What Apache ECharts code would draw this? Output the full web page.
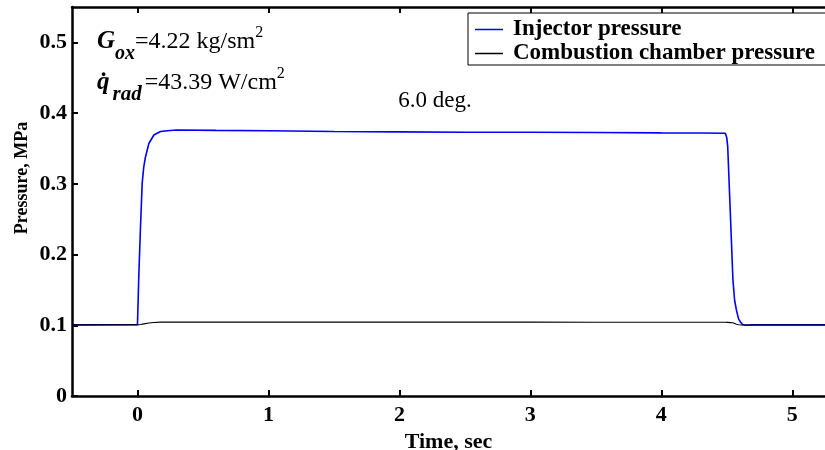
<!DOCTYPE html>
<html>
<head>
<meta charset="utf-8">
<script src="https://cdn.jsdelivr.net/npm/echarts@6/dist/echarts.min.js"></script>
<style>
  html, body { margin: 0; padding: 0; background: #fff; }
  #chart { width: 825px; height: 450px; }
</style>
</head>
<body>
<div id="chart"></div>
<script>
  // sample times, sec
  var time = [-0.5, 0, 0.01, 0.023, 0.036, 0.048, 0.061, 0.087, 0.125, 0.176, 0.227, 0.3, 0.6,
    1, 1.5, 2, 2.5, 3, 3.5, 4, 4.3, 4.489, 4.5, 4.507, 4.527, 4.547, 4.56, 4.573, 4.59, 4.603,
    4.62, 4.641, 4.7, 5, 5.25];
  // injector pressure, MPa
  var injector = [0.1005, 0.101, 0.169, 0.239, 0.301, 0.324, 0.338, 0.357, 0.369, 0.374, 0.375, 0.376, 0.3755,
    0.375, 0.374, 0.3735, 0.373, 0.373, 0.3725, 0.372, 0.3718, 0.3715, 0.365, 0.353, 0.259, 0.164, 0.135, 0.122, 0.109, 0.105,
    0.101, 0.1, 0.1005, 0.1005, 0.1005];
  // combustion chamber pressure, MPa
  var chamber = [0.1005, 0.1005, 0.1008, 0.101, 0.1015, 0.102, 0.1025, 0.1033, 0.104, 0.1045, 0.1045, 0.1045, 0.1045,
    0.1045, 0.1045, 0.1045, 0.1044, 0.1044, 0.1043, 0.1043, 0.1043, 0.1042, 0.1042, 0.1041, 0.1038, 0.1035, 0.1025, 0.1015, 0.1008, 0.1005,
    0.1003, 0.1003, 0.1003, 0.1003, 0.1003];
  var xTicks = [0, 1, 2, 3, 4, 5];
  var yTicks = [0, 0.1, 0.2, 0.3, 0.4, 0.5];

  var font = "Liberation Serif";
  var myChart = echarts.init(document.getElementById("chart"));

  var axisLine = { onZero: false, lineStyle: { color: "#000", width: 2.5 } };
  var tickStyle = { color: "#000", width: 2 };

  // rich styles for the two annotation lines (subscript / superscript)
  var noteRich = {
    b: { fontFamily: font, fontWeight: "bold", fontStyle: "italic", fontSize: 25, lineHeight: 44, verticalAlign: "middle" },
    s: { fontFamily: font, fontWeight: "bold", fontStyle: "italic", fontSize: 20, lineHeight: 20, verticalAlign: "bottom" },
    sr: { fontFamily: font, fontWeight: "bold", fontStyle: "italic", fontSize: 21, lineHeight: 20, verticalAlign: "bottom", padding: [0, 3, 0, 3] },
    r: { fontFamily: font, fontSize: 24, lineHeight: 44, verticalAlign: "middle" },
    p: { fontFamily: font, fontSize: 16, lineHeight: 16, verticalAlign: "top", padding: [5, 0, 0, 0] }
  };

  var option = {
    animation: false,
    grid: { left: 72, right: 0, top: 7, bottom: 54, containLabel: false, outerBoundsMode: "none" },
    legend: {
      orient: "vertical",
      left: 468,
      top: 13,
      align: "left",
      padding: [5, 60, 0, 7],
      itemGap: 1,
      itemWidth: 28,
      itemHeight: 1.5,
      icon: "rect",
      borderColor: "#000",
      borderWidth: 1,
      backgroundColor: "#fff",
      textStyle: { fontFamily: font, fontWeight: "bold", fontSize: 23, lineHeight: 22, color: "#000", padding: [0, 0, 0, 5] },
      data: ["Injector pressure", "Combustion chamber pressure"]
    },
    xAxis: [
      {
        type: "value",
        position: "bottom",
        min: -0.5,
        max: 5.25,
        name: "Time, sec",
        nameLocation: "middle",
        nameGap: 28,
        nameTextStyle: { fontFamily: font, fontWeight: "bold", fontSize: 22, color: "#000" },
        axisLine: axisLine,
        axisTick: { inside: true, length: 6, lineStyle: tickStyle, customValues: xTicks },
        axisLabel: { customValues: xTicks, fontFamily: font, fontWeight: "bold", fontSize: 22, color: "#000", margin: 8 },
        splitLine: { show: false }
      },
      {
        type: "value",
        position: "top",
        min: -0.5,
        max: 5.25,
        axisLine: axisLine,
        axisTick: { inside: true, length: 6, lineStyle: tickStyle, customValues: xTicks },
        axisLabel: { show: false },
        splitLine: { show: false }
      }
    ],
    yAxis: {
      type: "value",
      min: 0,
      max: 0.55,
      axisLine: axisLine,
      axisTick: { inside: true, length: 6, lineStyle: tickStyle, customValues: yTicks },
      axisLabel: { customValues: yTicks, fontFamily: font, fontWeight: "bold", fontSize: 22, color: "#000", margin: 5 },
      splitLine: { show: false }
    },
    graphic: [
      {
        type: "text",
        x: 22,
        y: 178,
        rotation: Math.PI / 2,
        style: {
          text: "Pressure, MPa",
          font: "bold 18px " + font,
          fill: "#000",
          textAlign: "center",
          textVerticalAlign: "middle"
        }
      },
      {
        type: "text",
        x: 97,
        y: 20,
        style: { text: "{b|G}{s|ox}{r|=4.22 kg/sm}{p|2}", fill: "#000", rich: noteRich }
      },
      {
        type: "text",
        x: 97,
        y: 61,
        style: { text: "{b|q\u0307}{sr|rad}{r|=43.39 W/cm}{p|2}", fill: "#000", rich: noteRich }
      },
      {
        type: "text",
        x: 435,
        y: 101,
        style: {
          text: "6.0 deg.",
          font: "23px " + font,
          fill: "#000",
          textAlign: "center",
          textVerticalAlign: "middle"
        }
      }
    ],
    series: [
      {
        name: "Injector pressure",
        type: "line",
        symbol: "none",
        color: "#0000ff",
        lineStyle: { color: "#0000ff", width: 1.6 },
        data: time.map(function (t, i) { return [t, injector[i]]; })
      },
      {
        name: "Combustion chamber pressure",
        type: "line",
        symbol: "none",
        color: "#000",
        lineStyle: { color: "#000", width: 1.1 },
        data: time.map(function (t, i) { return [t, chamber[i]]; })
      }
    ]
  };
  myChart.setOption(option);
</script>
</body>
</html>
